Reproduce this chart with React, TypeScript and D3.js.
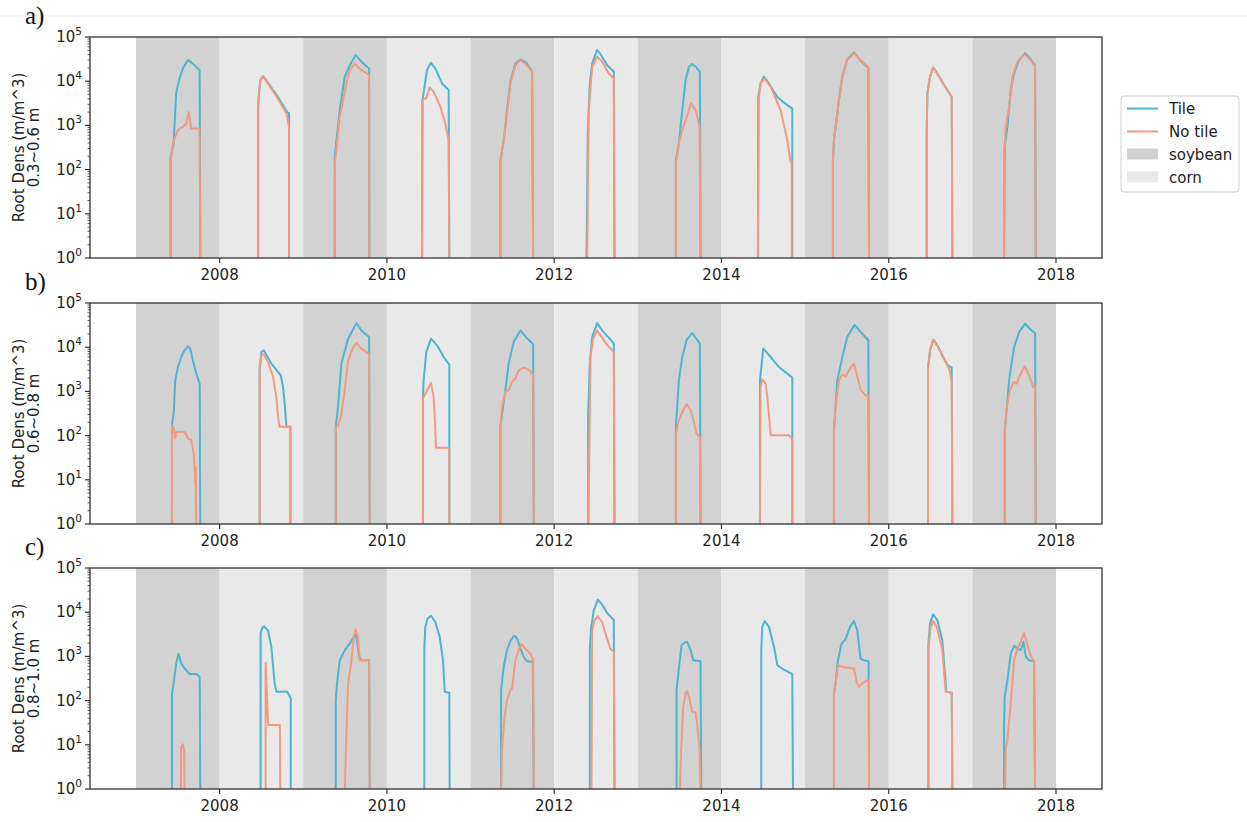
import React from 'react'
import * as d3 from 'd3'

type Pt = [number, number]

// crop years shaded behind each panel
const cropYears = [2007, 2008, 2009, 2010, 2011, 2012, 2013, 2014, 2015, 2016, 2017]
const crops = ['soybean', 'corn', 'soybean', 'corn', 'soybean', 'corn', 'soybean', 'corn', 'soybean', 'corn', 'soybean']
const xTicks = [2008, 2010, 2012, 2014, 2016, 2018]
const yExps = [0, 1, 2, 3, 4, 5]
const panelLetters = ['a)', 'b)', 'c)']
const depthLabels = ['0.3~0.6 m', '0.6~0.8 m', '0.8~1.0 m']

// a) 0.3~0.6 m, one array per growing season: [decimal year, root density]
const tileA: Pt[][] = [
  [[2007.414, 1], [2007.414, 190], [2007.45, 390], [2007.48, 5300], [2007.52, 11500], [2007.56, 19500], [2007.62, 30000], [2007.68, 25000], [2007.76, 17800], [2007.77, 1]],
  [[2008.46, 1], [2008.46, 2600], [2008.467, 4500], [2008.487, 10600], [2008.52, 13000], [2008.68, 4900], [2008.806, 2000], [2008.83, 1900], [2008.83, 1]],
  [[2009.376, 1], [2009.376, 200], [2009.436, 2200], [2009.496, 12600], [2009.556, 23000], [2009.627, 39000], [2009.695, 27700], [2009.787, 19500], [2009.79, 1]],
  [[2010.42, 1], [2010.425, 3700], [2010.479, 17900], [2010.527, 26000], [2010.579, 19500], [2010.659, 8900], [2010.738, 6300], [2010.746, 1]],
  [[2011.357, 1], [2011.357, 160], [2011.397, 465], [2011.436, 2200], [2011.476, 9800], [2011.536, 25000], [2011.596, 31000], [2011.668, 26000], [2011.736, 16800], [2011.748, 1]],
  [[2012.386, 1], [2012.402, 660], [2012.426, 8900], [2012.454, 25000], [2012.513, 51000], [2012.553, 41000], [2012.633, 23000], [2012.713, 16300], [2012.721, 1]],
  [[2013.455, 1], [2013.455, 163], [2013.491, 390], [2013.531, 2200], [2013.571, 10600], [2013.611, 21300], [2013.65, 24500], [2013.69, 21300], [2013.742, 16300], [2013.75, 1]],
  [[2014.436, 1], [2014.44, 4400], [2014.468, 8900], [2014.508, 12600], [2014.568, 8900], [2014.668, 4400], [2014.727, 3500], [2014.847, 2400], [2014.847, 1]],
  [[2015.333, 1], [2015.333, 162], [2015.345, 465], [2015.365, 930], [2015.405, 3800], [2015.445, 13000], [2015.504, 31000], [2015.584, 45000], [2015.664, 29000], [2015.756, 20000], [2015.764, 1]],
  [[2016.454, 1], [2016.454, 660], [2016.462, 5300], [2016.494, 12600], [2016.53, 20500], [2016.581, 15000], [2016.661, 8200], [2016.753, 4400], [2016.761, 1]],
  [[2017.379, 1], [2017.387, 330], [2017.419, 930], [2017.459, 6300], [2017.499, 15000], [2017.559, 30000], [2017.631, 43000], [2017.698, 31000], [2017.75, 23000], [2017.758, 1]],
]
const noTileA: Pt[][] = [
  [[2007.414, 1], [2007.414, 137], [2007.44, 390], [2007.5, 780], [2007.56, 930], [2007.6, 1100], [2007.63, 2000], [2007.66, 850], [2007.76, 850], [2007.77, 1]],
  [[2008.46, 1], [2008.46, 2600], [2008.467, 4500], [2008.487, 10600], [2008.52, 13000], [2008.68, 4500], [2008.8, 1860], [2008.83, 930], [2008.83, 1]],
  [[2009.376, 1], [2009.38, 150], [2009.436, 1560], [2009.516, 9000], [2009.556, 18000], [2009.616, 25000], [2009.695, 18000], [2009.787, 13800], [2009.79, 1]],
  [[2010.42, 1], [2010.425, 3700], [2010.45, 4000], [2010.471, 4100], [2010.511, 7200], [2010.559, 5800], [2010.639, 2650], [2010.698, 1100], [2010.738, 465], [2010.746, 1]],
  [[2011.357, 1], [2011.357, 160], [2011.397, 465], [2011.436, 1860], [2011.476, 8900], [2011.536, 23000], [2011.596, 30000], [2011.656, 25000], [2011.736, 16300], [2011.748, 1]],
  [[2012.395, 1], [2012.414, 2200], [2012.454, 21000], [2012.513, 36000], [2012.573, 27700], [2012.653, 15000], [2012.713, 11200], [2012.721, 1]],
  [[2013.455, 1], [2013.455, 137], [2013.491, 390], [2013.531, 780], [2013.571, 1300], [2013.638, 3150], [2013.69, 2200], [2013.738, 1000], [2013.75, 1]],
  [[2014.436, 1], [2014.448, 4400], [2014.468, 8900], [2014.516, 11500], [2014.588, 7500], [2014.708, 2200], [2014.787, 465], [2014.827, 150], [2014.839, 150], [2014.84, 1]],
  [[2015.333, 1], [2015.333, 162], [2015.345, 465], [2015.365, 930], [2015.405, 3700], [2015.445, 12600], [2015.504, 30000], [2015.584, 43000], [2015.664, 30000], [2015.756, 21000], [2015.764, 1]],
  [[2016.454, 1], [2016.454, 660], [2016.462, 5300], [2016.494, 12600], [2016.53, 20500], [2016.581, 15000], [2016.661, 8200], [2016.753, 4400], [2016.761, 1]],
  [[2017.379, 1], [2017.379, 195], [2017.399, 930], [2017.439, 2600], [2017.479, 12600], [2017.539, 27700], [2017.627, 40500], [2017.698, 30000], [2017.75, 22000], [2017.758, 1]],
]

// b) 0.6~0.8 m
const tileB: Pt[][] = [
  [[2007.43, 1], [2007.43, 172], [2007.45, 316], [2007.47, 1780], [2007.501, 3570], [2007.541, 6000], [2007.581, 8500], [2007.621, 10500], [2007.649, 9300], [2007.681, 5000], [2007.721, 2520], [2007.761, 1500], [2007.769, 1]],
  [[2008.479, 1], [2008.479, 3000], [2008.499, 7800], [2008.527, 8500], [2008.618, 4270], [2008.73, 2330], [2008.758, 1260], [2008.778, 530], [2008.798, 158], [2008.846, 158], [2008.846, 1]],
  [[2009.388, 1], [2009.388, 158], [2009.416, 446], [2009.456, 4270], [2009.536, 15600], [2009.635, 35000], [2009.695, 24000], [2009.787, 17000], [2009.795, 1]],
  [[2010.431, 1], [2010.431, 690], [2010.439, 1780], [2010.471, 7800], [2010.527, 15600], [2010.599, 11000], [2010.679, 6000], [2010.746, 4050], [2010.746, 1]],
  [[2011.357, 1], [2011.357, 158], [2011.377, 316], [2011.417, 1070], [2011.456, 4270], [2011.516, 13200], [2011.596, 24000], [2011.668, 16500], [2011.748, 11700], [2011.756, 1]],
  [[2012.406, 1], [2012.406, 300], [2012.426, 4270], [2012.454, 17000], [2012.513, 35000], [2012.573, 24000], [2012.653, 16500], [2012.713, 12000], [2012.721, 1]],
  [[2013.455, 1], [2013.455, 158], [2013.491, 1780], [2013.531, 6000], [2013.583, 14400], [2013.651, 21000], [2013.742, 12000], [2013.75, 1]],
  [[2014.46, 1], [2014.46, 1780], [2014.5, 9300], [2014.588, 6000], [2014.687, 3550], [2014.847, 2050], [2014.847, 1]],
  [[2015.345, 1], [2015.345, 133], [2015.385, 1780], [2015.445, 6000], [2015.504, 17000], [2015.592, 32000], [2015.664, 22000], [2015.756, 14400], [2015.764, 1]],
  [[2016.47, 1], [2016.47, 3550], [2016.494, 8500], [2016.534, 14800], [2016.581, 11000], [2016.661, 5500], [2016.701, 4000], [2016.753, 3460], [2016.761, 1]],
  [[2017.387, 1], [2017.387, 133], [2017.399, 224], [2017.439, 1780], [2017.499, 10000], [2017.559, 22000], [2017.631, 34000], [2017.698, 25000], [2017.75, 20400], [2017.758, 1]],
]
const noTileB: Pt[][] = [
  [[2007.43, 1], [2007.43, 172], [2007.45, 150], [2007.461, 112], [2007.47, 86], [2007.481, 120], [2007.541, 122], [2007.581, 122], [2007.621, 86], [2007.661, 79], [2007.689, 40], [2007.7, 20], [2007.709, 8], [2007.713, 20], [2007.72, 1]],
  [[2008.479, 1], [2008.479, 4000], [2008.499, 6600], [2008.527, 6900], [2008.578, 4700], [2008.638, 2140], [2008.678, 750], [2008.698, 265], [2008.718, 158], [2008.846, 158], [2008.846, 1]],
  [[2009.388, 1], [2009.388, 158], [2009.416, 158], [2009.456, 316], [2009.496, 1070], [2009.536, 5000], [2009.596, 10000], [2009.635, 12500], [2009.695, 9300], [2009.787, 6900], [2009.795, 1]],
  [[2010.431, 1], [2010.431, 690], [2010.471, 980], [2010.527, 1550], [2010.559, 750], [2010.575, 200], [2010.587, 53], [2010.746, 53], [2010.746, 1]],
  [[2011.357, 1], [2011.357, 158], [2011.377, 446], [2011.417, 980], [2011.456, 1070], [2011.496, 1650], [2011.536, 1950], [2011.576, 3000], [2011.636, 3460], [2011.696, 3100], [2011.748, 2400], [2011.756, 1]],
  [[2012.41, 1], [2012.434, 6000], [2012.466, 15600], [2012.513, 24000], [2012.593, 14500], [2012.653, 10200], [2012.713, 7800], [2012.721, 1]],
  [[2013.455, 1], [2013.455, 112], [2013.491, 224], [2013.543, 375], [2013.583, 515], [2013.631, 375], [2013.671, 200], [2013.702, 112], [2013.742, 94], [2013.75, 1]],
  [[2014.46, 1], [2014.468, 1260], [2014.488, 1860], [2014.528, 1500], [2014.548, 750], [2014.58, 158], [2014.588, 102], [2014.807, 102], [2014.835, 90], [2014.847, 80], [2014.847, 1]],
  [[2015.345, 1], [2015.345, 133], [2015.365, 446], [2015.405, 1780], [2015.445, 2400], [2015.485, 2200], [2015.544, 3460], [2015.584, 4270], [2015.624, 2140], [2015.664, 1070], [2015.724, 815], [2015.756, 815], [2015.764, 1]],
  [[2016.47, 1], [2016.47, 3550], [2016.494, 8500], [2016.534, 14800], [2016.581, 11000], [2016.661, 5500], [2016.729, 3000], [2016.753, 1650], [2016.761, 1]],
  [[2017.387, 1], [2017.387, 133], [2017.411, 446], [2017.451, 1070], [2017.491, 1650], [2017.531, 1500], [2017.559, 2140], [2017.627, 3700], [2017.678, 2330], [2017.726, 1260], [2017.75, 1260], [2017.758, 1]],
]

// c) 0.8~1.0 m
const tileC: Pt[][] = [
  [[2007.43, 1], [2007.43, 145], [2007.45, 245], [2007.481, 690], [2007.509, 1150], [2007.541, 690], [2007.581, 535], [2007.641, 400], [2007.721, 400], [2007.761, 345], [2007.769, 1]],
  [[2008.49, 1], [2008.49, 3300], [2008.505, 4270], [2008.527, 4800], [2008.578, 3900], [2008.618, 1660], [2008.658, 245], [2008.68, 158], [2008.81, 158], [2008.85, 113], [2008.85, 1]],
  [[2009.388, 1], [2009.388, 102], [2009.404, 245], [2009.436, 815], [2009.496, 1380], [2009.556, 1950], [2009.604, 2760], [2009.627, 3300], [2009.643, 2140], [2009.667, 1000], [2009.695, 815], [2009.787, 815], [2009.795, 1]],
  [[2010.447, 1], [2010.447, 1380], [2010.459, 4650], [2010.487, 7200], [2010.527, 8300], [2010.579, 6000], [2010.631, 2760], [2010.671, 815], [2010.691, 158], [2010.746, 150], [2010.75, 1]],
  [[2011.365, 1], [2011.365, 173], [2011.397, 590], [2011.436, 1380], [2011.476, 2250], [2011.516, 2860], [2011.536, 2860], [2011.564, 2350], [2011.604, 1380], [2011.644, 900], [2011.676, 780], [2011.744, 760], [2011.756, 1]],
  [[2012.426, 1], [2012.426, 1380], [2012.442, 4650], [2012.474, 11000], [2012.522, 19200], [2012.573, 15000], [2012.633, 9600], [2012.713, 6600], [2012.721, 1]],
  [[2013.463, 1], [2013.463, 173], [2013.491, 540], [2013.523, 1780], [2013.558, 2030], [2013.591, 2140], [2013.631, 1380], [2013.662, 815], [2013.75, 780], [2013.758, 1]],
  [[2014.476, 1], [2014.476, 1380], [2014.488, 4650], [2014.516, 6300], [2014.568, 4650], [2014.628, 1660], [2014.668, 630], [2014.747, 500], [2014.847, 400], [2014.855, 1]],
  [[2015.345, 1], [2015.345, 145], [2015.365, 245], [2015.385, 630], [2015.393, 815], [2015.433, 1900], [2015.485, 2500], [2015.536, 4650], [2015.584, 6300], [2015.624, 3900], [2015.664, 890], [2015.704, 815], [2015.76, 780], [2015.764, 1]],
  [[2016.474, 1], [2016.474, 1950], [2016.494, 5500], [2016.53, 9000], [2016.581, 6600], [2016.641, 2330], [2016.689, 158], [2016.753, 150], [2016.761, 1]],
  [[2017.379, 1], [2017.379, 30], [2017.387, 122], [2017.419, 290], [2017.459, 1150], [2017.499, 1730], [2017.539, 1500], [2017.579, 1380], [2017.611, 2140], [2017.639, 980], [2017.678, 815], [2017.738, 780], [2017.75, 1]],
]
const noTileC: Pt[][] = [
  [[2007.537, 1], [2007.541, 9], [2007.561, 10.2], [2007.577, 7.6], [2007.581, 1]],
  [[2008.55, 1], [2008.55, 720], [2008.58, 28], [2008.72, 28], [2008.725, 1]],
  [[2009.496, 1], [2009.516, 18], [2009.536, 245], [2009.576, 815], [2009.604, 2760], [2009.627, 4050], [2009.655, 2760], [2009.675, 815], [2009.787, 815], [2009.795, 1]],
  [[2011.365, 1], [2011.377, 8], [2011.405, 40], [2011.436, 102], [2011.476, 173], [2011.496, 190], [2011.536, 815], [2011.576, 1380], [2011.604, 1900], [2011.656, 1500], [2011.716, 1150], [2011.748, 815], [2011.756, 1]],
  [[2012.446, 1], [2012.454, 3900], [2012.482, 6600], [2012.522, 8100], [2012.573, 6000], [2012.625, 2760], [2012.673, 1500], [2012.713, 1260], [2012.721, 1]],
  [[2013.503, 1], [2013.519, 8], [2013.543, 72], [2013.571, 145], [2013.591, 163], [2013.622, 102], [2013.651, 56], [2013.69, 54], [2013.71, 30], [2013.738, 8], [2013.75, 1]],
  [[2015.345, 1], [2015.345, 145], [2015.365, 245], [2015.393, 630], [2015.445, 580], [2015.584, 535], [2015.616, 265], [2015.644, 205], [2015.684, 245], [2015.744, 290], [2015.764, 290], [2015.764, 1]],
  [[2016.474, 1], [2016.474, 1380], [2016.502, 4650], [2016.534, 6300], [2016.581, 4270], [2016.641, 1380], [2016.681, 158], [2016.753, 150], [2016.761, 1]],
  [[2017.391, 1], [2017.399, 8], [2017.419, 13], [2017.459, 86], [2017.499, 815], [2017.539, 1500], [2017.579, 2140], [2017.619, 3400], [2017.659, 1780], [2017.698, 1050], [2017.738, 780], [2017.75, 1]],
]

const tileSeries = [tileA, tileB, tileC]
const noTileSeries = [noTileA, noTileB, noTileC]

const W = 1247
const H = 822
const left = 90
const right = 1102
const panelTops = [37, 303, 568]
const panelH = 221

const TILE = '#4db4d1'
const NOTILE = '#f29a80'
const SOY = '#d2d2d2'
const CORN = '#e9e9e9'
const INK = '#333'
const FONT = 'DejaVu Sans, sans-serif'

const x = d3.scaleLinear().domain([2006.45, 2018.55]).range([left, right])

function Panel({ idx }: { idx: number }) {
  const top = panelTops[idx]
  const bottom = top + panelH
  const y = d3.scaleLog().domain([1, 1e5]).range([bottom, top]).clamp(true)
  const line = d3.line<Pt>().x(d => x(d[0])).y(d => y(Math.max(d[1], 1)))
  const minor: number[] = []
  yExps.slice(0, -1).forEach(e => {
    for (let m = 2; m < 10; m++) minor.push(m * Math.pow(10, e))
  })
  const clipId = `clip-${idx}`
  const mid = (top + bottom) / 2

  return (
    <g>
      <defs>
        <clipPath id={clipId}>
          <rect x={left} y={top} width={right - left} height={panelH} />
        </clipPath>
      </defs>
      {cropYears.map((yr, i) => (
        <rect key={yr} x={x(yr)} y={top} width={x(yr + 1) - x(yr)} height={panelH}
          fill={crops[i] === 'soybean' ? SOY : CORN} />
      ))}
      <g clipPath={`url(#${clipId})`} fill="none" strokeWidth={2} strokeLinejoin="round">
        {tileSeries[idx].map((s, i) => (
          <path key={'t' + i} d={line(s) || ''} stroke={TILE} />
        ))}
        {noTileSeries[idx].map((s, i) => (
          <path key={'n' + i} d={line(s) || ''} stroke={NOTILE} />
        ))}
      </g>
      <rect x={left} y={top} width={right - left} height={panelH} fill="none" stroke={INK} strokeWidth={1.3} />

      {/* x axis */}
      {xTicks.map(t => (
        <g key={t}>
          <line x1={x(t)} x2={x(t)} y1={bottom} y2={bottom + 5} stroke={INK} strokeWidth={1.2} />
          <text x={x(t)} y={bottom + 22} textAnchor="middle" fontSize={15} fontFamily={FONT} fill="#222">{t}</text>
        </g>
      ))}

      {/* y axis, log */}
      {minor.map(v => (
        <line key={v} x1={left - 2.5} x2={left} y1={y(v)} y2={y(v)} stroke={INK} strokeWidth={0.8} />
      ))}
      {yExps.map(e => (
        <g key={e}>
          <line x1={left - 5} x2={left} y1={y(Math.pow(10, e))} y2={y(Math.pow(10, e))} stroke={INK} strokeWidth={1.2} />
          <text x={left - 8} y={y(Math.pow(10, e)) + 5} textAnchor="end" fontFamily={FONT} fill="#222">
            <tspan fontSize={15}>10</tspan>
            <tspan fontSize={10.5} dy={-7}>{e}</tspan>
          </text>
        </g>
      ))}

      <text transform={`translate(24,${mid}) rotate(-90)`} textAnchor="middle" fontSize={15} fontFamily={FONT} fill="#222">
        Root Dens (m/m^3)
      </text>
      <text transform={`translate(39,${mid}) rotate(-90)`} textAnchor="middle" fontSize={15} fontFamily={FONT} fill="#222">
        {depthLabels[idx]}
      </text>
      <text x={25} y={top - 13} fontSize={25} fontFamily="Liberation Serif, Times New Roman, serif" fill="#111">
        {panelLetters[idx]}
      </text>
    </g>
  )
}

function Legend() {
  const items = [
    { label: 'Tile', kind: 'line', color: TILE },
    { label: 'No tile', kind: 'line', color: NOTILE },
    { label: 'soybean', kind: 'patch', color: SOY },
    { label: 'corn', kind: 'patch', color: CORN },
  ]
  const lx = 1121
  const ly = 96
  return (
    <g>
      <rect x={lx} y={ly} width={118} height={96} rx={3} fill="white" stroke="#d0d0d0" strokeWidth={1} />
      {items.map((it, i) => {
        const cy = ly + 12.5 + i * 23
        return (
          <g key={it.label}>
            {it.kind === 'line'
              ? <line x1={lx + 6} x2={lx + 37} y1={cy} y2={cy} stroke={it.color} strokeWidth={2} />
              : <rect x={lx + 6} y={cy - 6} width={31} height={11} fill={it.color} />}
            <text x={lx + 48} y={cy + 5} fontSize={15} fontFamily={FONT} fill="#222">{it.label}</text>
          </g>
        )
      })}
    </g>
  )
}

export default function App() {
  return (
    <svg width={W} height={H} style={{ position: 'absolute', left: 0, top: 0, background: 'white' }}>
      <rect width={W} height={H} fill="white" />
      <line x1={0} x2={W} y1={16} y2={16} stroke="#f1f1f1" strokeWidth={1} />
      {[0, 1, 2].map(i => <Panel key={i} idx={i} />)}
      <Legend />
    </svg>
  )
}
